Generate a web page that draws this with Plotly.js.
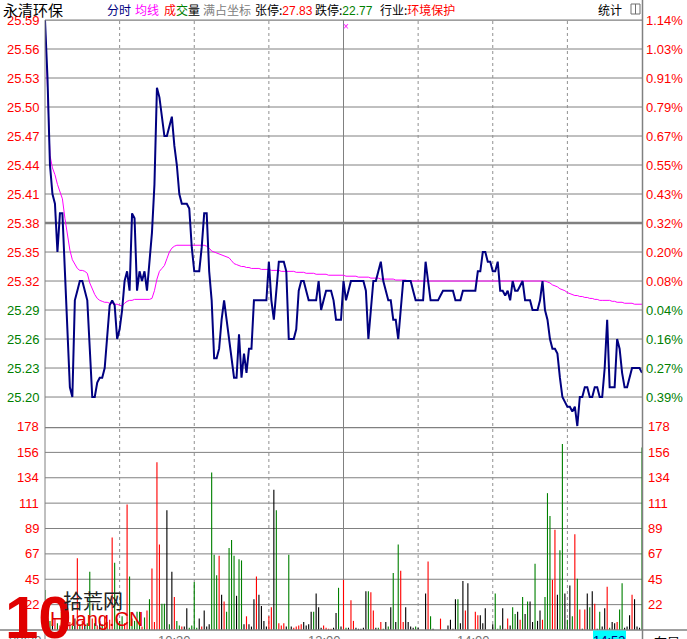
<!DOCTYPE html>
<html><head><meta charset="utf-8">
<script src="https://cdn.plot.ly/plotly-3.0.1.min.js"></script>
<style>html,body{margin:0;padding:0;background:#fff;}#chart{width:687px;height:639px;}</style>
</head><body><div id="chart"></div>
<script>
// ---------- DATA ----------
const minutes = Array.from({length:241}, (_, i) => i); // 09:30 .. 15:00 trading minutes
const price = [
25.59,25.53,25.44,25.41,25.40,25.35,25.39,25.39,25.33,25.26,
25.21,25.20,25.30,25.31,25.32,25.32,25.31,25.30,25.25,25.20,
25.20,25.215,25.22,25.22,25.23,25.26,25.295,25.30,25.295,25.26,
25.27,25.29,25.32,25.33,25.31,25.39,25.385,25.31,25.33,25.32,
25.33,25.31,25.34,25.37,25.42,25.52,25.51,25.49,25.47,25.47,
25.48,25.49,25.46,25.44,25.41,25.40,25.40,25.40,25.395,25.355,
25.33,25.33,25.33,25.355,25.39,25.39,25.33,25.30,25.24,25.24,
25.25,25.28,25.30,25.28,25.26,25.235,25.22,25.22,25.265,25.22,
25.245,25.225,25.25,25.25,25.30,25.30,25.30,25.30,25.30,25.30,
25.34,25.30,25.28,25.315,25.34,25.34,25.34,25.33,25.26,25.26,
25.26,25.27,25.31,25.32,25.32,25.31,25.30,25.30,25.30,25.30,
25.32,25.29,25.30,25.31,25.31,25.31,25.30,25.28,25.28,25.28,
25.32,25.30,25.31,25.32,25.32,25.32,25.32,25.32,25.32,25.31,
25.26,25.29,25.32,25.32,25.33,25.34,25.32,25.31,25.30,25.30,
25.28,25.28,25.26,25.29,25.32,25.32,25.32,25.32,25.31,25.30,
25.30,25.30,25.30,25.34,25.32,25.30,25.30,25.30,25.30,25.305,
25.31,25.31,25.31,25.31,25.31,25.30,25.30,25.30,25.31,25.31,
25.31,25.31,25.31,25.31,25.33,25.33,25.35,25.35,25.34,25.34,
25.33,25.33,25.34,25.31,25.31,25.305,25.31,25.30,25.32,25.31,
25.31,25.315,25.32,25.30,25.30,25.30,25.29,25.29,25.29,25.30,
25.32,25.29,25.28,25.26,25.25,25.25,25.245,25.22,25.20,25.195,
25.19,25.19,25.185,25.19,25.17,25.20,25.20,25.21,25.21,25.20,
25.20,25.21,25.21,25.20,25.20,25.23,25.28,25.21,25.21,25.21,
25.26,25.25,25.225,25.21,25.21,25.22,25.23,25.23,25.23,25.23,
25.225];
const avgPrice = [
25.59,25.52,25.45,25.437,25.43,25.42,25.412,25.405,25.385,25.37,
25.352,25.342,25.337,25.333,25.331,25.331,25.330,25.328,25.318,25.312,
25.306,25.302,25.300,25.299,25.298,25.298,25.297,25.297,25.296,25.296,
25.295,25.294,25.297,25.299,25.300,25.300,25.301,25.301,25.301,25.301,
25.301,25.301,25.301,25.302,25.310,25.322,25.330,25.333,25.336,25.343,
25.350,25.354,25.356,25.357,25.357,25.357,25.357,25.357,25.357,25.357,
25.357,25.357,25.357,25.357,25.357,25.356,25.354,25.351,25.350,25.349,
25.348,25.347,25.346,25.345,25.344,25.341,25.338,25.337,25.336,25.335,
25.335,25.334,25.334,25.333,25.333,25.333,25.333,25.332,25.332,25.332,
25.332,25.331,25.331,25.331,25.331,25.330,25.330,25.330,25.330,25.330,
25.330,25.329,25.329,25.329,25.329,25.328,25.328,25.328,25.328,25.327,
25.327,25.327,25.327,25.327,25.326,25.326,25.326,25.326,25.326,25.326,
25.326,25.325,25.325,25.325,25.325,25.325,25.324,25.324,25.324,25.324,
25.324,25.323,25.323,25.323,25.323,25.322,25.322,25.322,25.322,25.322,
25.322,25.321,25.321,25.321,25.321,25.321,25.320,25.320,25.320,25.320,
25.320,25.320,25.320,25.320,25.320,25.320,25.320,25.320,25.320,25.320,
25.320,25.320,25.320,25.320,25.320,25.320,25.320,25.320,25.320,25.320,
25.320,25.320,25.320,25.320,25.320,25.320,25.320,25.320,25.320,25.320,
25.320,25.320,25.320,25.320,25.320,25.320,25.320,25.320,25.320,25.320,
25.320,25.320,25.320,25.320,25.320,25.320,25.320,25.320,25.320,25.320,
25.320,25.320,25.319,25.318,25.316,25.315,25.314,25.312,25.311,25.310,
25.308,25.307,25.306,25.305,25.305,25.304,25.304,25.303,25.303,25.302,
25.302,25.301,25.301,25.300,25.300,25.300,25.300,25.300,25.299,25.299,
25.298,25.298,25.298,25.297,25.297,25.297,25.297,25.296,25.296,25.296,
25.296];
const volume = [
35,12,8,5,10,6,4,15,9,5,
7,4,10,63,5,8,4,6,51,10,
6,4,8,5,12,7,9,81,59,10,
8,12,6,110,47,10,8,16,16,3,
11,17,27,54,7,147,75,23,23,105,
5,51,29,8,4,3,3,19,2,4,
42,2,10,3,17,3,5,138,66,48,
65,31,25,16,72,79,65,30,62,61,
5,12,5,3,27,47,31,21,8,3,
12,20,123,105,6,4,6,3,66,3,
2,3,4,5,7,4,5,16,16,32,
20,2,4,2,1,1,2,15,37,3,
44,2,2,26,8,2,1,1,2,34,
34,33,17,2,2,7,1,7,3,20,
50,7,75,52,7,20,7,3,2,3,
2,0,0,32,60,12,1,0,0,10,
0,0,4,9,1,27,27,6,43,17,
41,0,0,16,13,13,6,19,0,0,
5,32,1,4,19,1,10,4,20,14,
16,9,29,14,25,25,7,58,8,17,
9,29,120,100,44,88,31,70,163,32,
9,39,12,84,45,18,1,18,32,20,
34,23,1,16,3,19,38,2,7,6,
7,18,41,2,3,13,31,27,3,2,
160];
// 1 = up (red), -1 = down (green), 0 = flat (black)
const volDir = [
-1,1,-1,0,1,-1,1,-1,0,-1,
1,-1,0,1,-1,1,0,-1,-1,1,
-1,1,0,-1,1,-1,1,1,-1,-1,
-1,-1,1,1,-1,-1,-1,-1,-1,1,
-1,1,-1,1,1,1,1,-1,-1,0,
-1,0,1,-1,-1,1,0,0,-1,-1,
-1,-1,0,1,0,0,0,-1,-1,-1,
1,0,1,-1,-1,-1,-1,0,-1,-1,
0,1,0,0,0,1,0,0,0,0,
1,1,0,-1,1,1,1,0,-1,0,
1,1,1,1,0,0,0,0,-1,0,
0,0,1,1,1,1,0,0,-1,0,
1,-1,0,1,1,0,0,0,0,0,
-1,1,1,0,-1,1,-1,0,-1,0,
-1,0,-1,1,1,0,0,0,0,-1,
0,0,0,0,1,-1,0,0,0,1,
0,0,0,0,0,0,-1,0,0,1,
0,0,0,1,1,0,0,0,0,0,
0,-1,-1,-1,0,1,1,0,-1,-1,
0,1,-1,0,-1,0,0,-1,0,0,
1,-1,-1,-1,1,1,0,-1,-1,0,
-1,0,-1,1,-1,1,0,1,0,-1,
0,1,0,-1,0,0,1,-1,0,0,
1,-1,-1,0,0,0,1,0,0,0,
-1];
const prevClose = 25.30;
const priceTicks = [25.59,25.56,25.53,25.50,25.47,25.44,25.41,25.38,25.35,25.32,25.29,25.26,25.23,25.20];
const pctLabels = ['1.14%','1.03%','0.91%','0.79%','0.67%','0.55%','0.43%','0.32%','0.20%','0.08%','0.04%','0.16%','0.27%','0.39%'];
const volMax = 178;
const volLabels = ['178','156','134','111','89','67','45','22'];
const timeTicks = [0, 60, 120, 180];
const timeLabels = ['09:30','10:30','13:00','14:00'];
const gridMinutes = [30, 60, 90, 120, 150, 180, 210];
const cursorTime = '14:53';

// ---------- LAYOUT HELPERS ----------
const L = 45, R = 642, T = 20, B = 630, W = 687, H = 639;
const PX = p => (p - L) / (R - L);
const PY = p => (B - p) / (B - T);
const volDomainTop = (B - 427) / (B - T);
const RED = '#ff0000', GREEN = '#008000', GRID = '#808080';
const numFont = 'Arial, "Liberation Sans", sans-serif';
const cjkFont = '"Noto Sans CJK SC", sans-serif';

const shapes = [];
const annotations = [];

// price gridlines
priceTicks.forEach(v => {
  shapes.push({type:'line', xref:'paper', yref:'y', x0:0, x1:1, y0:v, y1:v,
    line:{color:GRID, width: Math.abs(v - 25.38) < 1e-6 ? 2.5 : 1}, layer:'below'});
});
// volume gridlines
volLabels.forEach((t, k) => {
  const v = volMax * (8 - k) / 8;
  shapes.push({type:'line', xref:'paper', yref:'y2', x0:0, x1:1, y0:v, y1:v,
    line:{color:GRID, width: k === 0 ? 2.5 : 1}, layer:'below'});
});
// vertical gridlines
gridMinutes.forEach(m => {
  shapes.push({type:'line', xref:'x', yref:'paper', x0:m, x1:m, y0:0, y1:1,
    line:{color: m === 120 ? GRID : '#909090', width:1, dash: m === 120 ? 'solid' : 'dot'}, layer:'below'});
});
// frame
shapes.push({type:'line', xref:'paper', yref:'paper', x0:0, x1:1, y0:1, y1:1, line:{color:GRID, width:1}});
shapes.push({type:'line', xref:'paper', yref:'paper', x0:0, x1:0, y0:PY(639), y1:1, line:{color:GRID, width:1}});
shapes.push({type:'line', xref:'paper', yref:'paper', x0:PX(642.5), x1:PX(642.5), y0:PY(639), y1:PY(0), line:{color:GRID, width:1.5}});
shapes.push({type:'line', xref:'paper', yref:'paper', x0:PX(0), x1:PX(687), y0:0, y1:0, line:{color:GRID, width:1.5}});
// header icon box
shapes.push({type:'rect', xref:'paper', yref:'paper', x0:PX(631), x1:PX(640), y0:PY(14), y1:PY(4), line:{color:'#707070', width:1}});
shapes.push({type:'line', xref:'paper', yref:'paper', x0:PX(635.5), x1:PX(635.5), y0:PY(14), y1:PY(4), line:{color:'#707070', width:1}});
// cursor time box
shapes.push({type:'rect', xref:'paper', yref:'paper', x0:PX(593), x1:PX(626), y0:PY(641), y1:PY(630.5), fillcolor:'#00ffff', line:{width:0}});

// price tick labels (left) and percentage labels (right)
priceTicks.forEach((v, i) => {
  const col = v > prevClose ? RED : GREEN;
  annotations.push({xref:'paper', yref:'y', x:0, y:v, xanchor:'right', yanchor:'middle', xshift:-3,
    text:v.toFixed(2), showarrow:false, font:{family:numFont, size:13, color:col}});
  annotations.push({xref:'paper', yref:'y', x:1, y:v, xanchor:'left', yanchor:'middle', xshift:2,
    text:pctLabels[i], showarrow:false, font:{family:numFont, size:13, color:col}});
});
// volume labels
volLabels.forEach((t, k) => {
  const v = volMax * (8 - k) / 8;
  annotations.push({xref:'paper', yref:'y2', x:0, y:v, xanchor:'right', yanchor:'middle', xshift:-4,
    text:t, showarrow:false, font:{family:numFont, size:13, color:RED}});
  annotations.push({xref:'paper', yref:'y2', x:1, y:v, xanchor:'left', yanchor:'middle', xshift:4,
    text:t, showarrow:false, font:{family:numFont, size:13, color:RED}});
});
// time labels (right aligned to their gridline, cut by the window bottom)
timeTicks.forEach((m, i) => {
  annotations.push({xref:'x', yref:'paper', x:m, y:PY(631), xanchor:'right', yanchor:'top', xshift:-1,
    text:timeLabels[i], showarrow:false, font:{family:numFont, size:13, color:'#707070'}});
});
annotations.push({xref:'paper', yref:'paper', x:PX(609.5), y:PY(631), xanchor:'center', yanchor:'top',
  text:cursorTime, showarrow:false, font:{family:numFont, size:13, color:'#000080'}});
annotations.push({xref:'paper', yref:'paper', x:PX(652), y:PY(630), xanchor:'left', yanchor:'top',
  text:'布局', showarrow:false, font:{family:cjkFont, size:13, color:'#000'}});

// header
const head = (x, html, size) => annotations.push({xref:'paper', yref:'paper', x:PX(x), y:PY(9), xanchor:'left', yanchor:'middle',
  text:html, showarrow:false, font:{family:cjkFont, size:size || 12, color:'#000'}});
head(1, '永清环保', 15);
head(105, '<span style="color:#000080">分时</span>');
head(133, '<span style="color:#ff00ff">均线</span>');
head(162, '<span style="color:#ff0000">成</span><span style="color:#008000">交</span>量');
head(201, '<span style="color:#808080">满占坐标</span>');
head(253, '张停:<span style="color:#ff0000;font-family:Arial">27.83</span>');
head(313, '跌停:<span style="color:#008000;font-family:Arial">22.77</span>');
head(378, '行业:<span style="color:#ff0000">环境保护</span>');
head(596, '统计');
// magenta cursor marker
annotations.push({xref:'x', yref:'paper', x:120, y:PY(27), xanchor:'center', yanchor:'middle', xshift:2,
  text:'×', showarrow:false, font:{family:numFont, size:10, color:'#ff00ff'}});

// watermark logo
annotations.push({xref:'paper', yref:'paper', x:PX(3), y:PY(582), xanchor:'left', yanchor:'top',
  text:'<b>10</b>', showarrow:false, font:{family:'"Liberation Sans Narrow", "Arial Narrow", Arial, sans-serif', size:60, color:'#e00000'}});
annotations.push({xref:'paper', yref:'paper', x:PX(61), y:PY(584), xanchor:'left', yanchor:'top',
  text:'拾荒网', showarrow:false, font:{family:cjkFont, size:20, color:'#222'}});
annotations.push({xref:'paper', yref:'paper', x:PX(48), y:PY(606), xanchor:'left', yanchor:'top',
  text:'Huang.CN', showarrow:false, font:{family:numFont, size:20, color:'#e00000'}});

const volColors = volDir.map(d => d > 0 ? RED : (d < 0 ? GREEN : '#000000'));

const traces = [
  {type:'bar', x:minutes, y:volume, yaxis:'y2', width:0.45,
   marker:{color:volColors, line:{width:0}}, hoverinfo:'skip'},
  {type:'scatter', mode:'lines', x:minutes, y:avgPrice, line:{color:'#ff00ff', width:1}, hoverinfo:'skip'},
  {type:'scatter', mode:'lines', x:minutes, y:price, line:{color:'#000080', width:2}, hoverinfo:'skip'}
];

const layout = {
  width:W, height:H,
  margin:{l:L, r:W - R, t:T, b:H - B, pad:0},
  paper_bgcolor:'#fff', plot_bgcolor:'#fff',
  showlegend:false,
  xaxis:{range:[0,240], showgrid:false, zeroline:false, showticklabels:false, showline:false, fixedrange:true},
  yaxis:{domain:[volDomainTop,1], range:[25.169, 25.59], showgrid:false, zeroline:false, showticklabels:false, fixedrange:true},
  yaxis2:{domain:[0,volDomainTop], range:[0, volMax], showgrid:false, zeroline:false, showticklabels:false, fixedrange:true},
  shapes:shapes, annotations:annotations
};
Plotly.newPlot('chart', traces, layout, {staticPlot:true, displayModeBar:false});
</script></body></html>
